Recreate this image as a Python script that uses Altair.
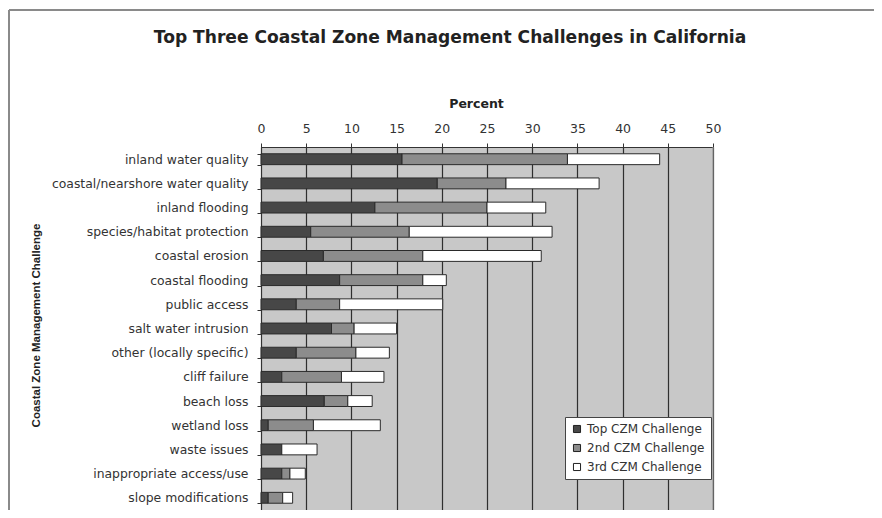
import altair as alt
import pandas as pd

categories = [
    "inland water quality",
    "coastal/nearshore water quality",
    "inland flooding",
    "species/habitat protection",
    "coastal erosion",
    "coastal flooding",
    "public access",
    "salt water intrusion",
    "other (locally specific)",
    "cliff failure",
    "beach loss",
    "wetland loss",
    "waste issues",
    "inappropriate access/use",
    "slope modifications",
]
top_vals = [15.6, 19.5, 12.6, 5.5, 6.9, 8.7, 3.9, 7.8, 3.9, 2.3, 7.0, 0.8, 2.3, 2.3, 0.8]
second_vals = [18.3, 7.6, 12.4, 10.9, 11.0, 9.2, 4.8, 2.5, 6.6, 6.6, 2.6, 5.0, 0.0, 0.9, 1.6]
third_vals = [10.2, 10.3, 6.5, 15.8, 13.1, 2.6, 11.4, 4.7, 3.7, 4.7, 2.7, 7.4, 3.9, 1.7, 1.1]
series = ["Top CZM Challenge", "2nd CZM Challenge", "3rd CZM Challenge"]
colors = ["#474747", "#8c8c8c", "#ffffff"]
x_ticks = [0, 5, 10, 15, 20, 25, 30, 35, 40, 45, 50]

rows = []
for i, c in enumerate(categories):
    for k, vals in enumerate([top_vals, second_vals, third_vals]):
        rows.append({"challenge": c, "series": series[k], "order": k, "value": vals[i]})
df = pd.DataFrame(rows)

W, H = 452, 363
PL, PT = 253, 139

bars = alt.Chart(df).mark_bar(stroke="#2a2a2a", strokeWidth=1).encode(
    y=alt.Y(
        "challenge:N",
        sort=categories,
        scale=alt.Scale(paddingInner=0.55, paddingOuter=0.28),
        axis=alt.Axis(
            title="Coastal Zone Management Challenge",
            titleFont="Liberation Sans",
            titleFontSize=11.5,
            titleFontWeight="bold",
            titleColor="#222",
            titleAngle=270,
            titleX=36 - 261,
            titleY=325 - 147,
            titleAlign="center",
            titleBaseline="middle",
            labelFont="DejaVu Sans",
            labelFontSize=12.4,
            labelColor="#333",
            labelPadding=9,
            labelLimit=400,
            tickBand="extent",
            tickSize=4,
            tickColor="#333",
            domainColor="#333",
            grid=False,
        ),
    ),
    x=alt.X(
        "value:Q",
        stack="zero",
        scale=alt.Scale(domain=[0, 50], nice=False),
        axis=alt.Axis(
            orient="top",
            values=x_ticks,
            title="Percent",
            titleFont="DejaVu Sans",
            titleFontSize=12.5,
            titleFontWeight="bold",
            titleColor="#222",
            titleX=215,
            titleY=-44,
            titleAlign="center",
            titleBaseline="middle",
            labelFont="DejaVu Sans",
            labelFontSize=12.5,
            labelColor="#333",
            labelPadding=8,
            labelFlush=False,
            tickSize=4,
            tickColor="#333",
            domainColor="#333",
            grid=True,
            gridColor="#2f2f2f",
            gridWidth=1.2,
            gridOpacity=1,
        ),
    ),
    color=alt.Color(
        "series:N",
        scale=alt.Scale(domain=series, range=colors),
        legend=alt.Legend(
            title=None,
            orient="none",
            legendX=304,
            legendY=270,
            fillColor="#ffffff",
            strokeColor="#444",
            padding=6,
            symbolType="square",
            symbolSize=50,
            symbolStrokeColor="#222",
            symbolStrokeWidth=1,
            labelFont="DejaVu Sans",
            labelFontSize=12,
            labelColor="#333",
            rowPadding=7,
            labelOffset=4,
        ),
    ),
    order=alt.Order("order:Q"),
)

frame_df = pd.DataFrame({"k": [0]})
frame_top = alt.Chart(frame_df).mark_rule(color="#8a8a8a", strokeWidth=2).encode(
    x=alt.value(9 - 261), x2=alt.value(890 - 261), y=alt.value(10 - 147)
)
frame_left = alt.Chart(frame_df).mark_rule(color="#8a8a8a", strokeWidth=2).encode(
    x=alt.value(9 - 261), y=alt.value(10 - 147), y2=alt.value(530 - 147)
)
right_edge = alt.Chart(frame_df).mark_rule(color="#9a9a9a", strokeWidth=1).encode(
    x=alt.value(W), y=alt.value(0), y2=alt.value(H)
)

chart = (
    alt.layer(frame_top, frame_left, bars, right_edge)
    .properties(
        width=W,
        height=H,
        autosize=alt.AutoSizeParams(type="none"),
        padding={"left": PL, "top": PT, "right": 882 - 16 - PL - W, "bottom": 518 - 16 - PT - H},
        title=alt.TitleParams(
            "Top Three Coastal Zone Management Challenges in California",
            font="DejaVu Sans",
            fontSize=17.1,
            fontWeight="bold",
            color="#222",
            anchor="middle",
            frame="group",
            dx=-37,
            offset=0,
            dy=37,
        ),
        background="#ffffff",
    )
    .configure_view(fill="#c8c8c8", stroke="#555", strokeWidth=1)
)

chart.save("out.html", embed_options={"renderer": "svg", "actions": False})
